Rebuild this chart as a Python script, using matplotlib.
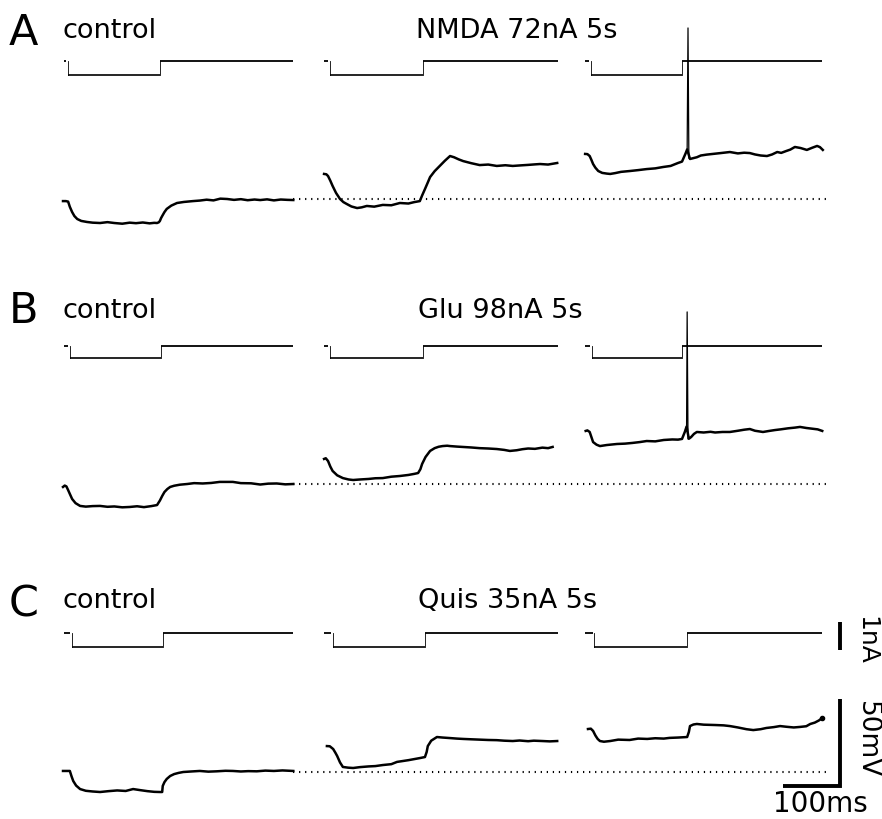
import matplotlib
matplotlib.use("Agg")
import matplotlib.pyplot as plt

# ---------------- data (time in ms within each sweep, voltage in mV re. rest, current in nA) -------------
panel_letters = ["A", "B", "C"]
control_label = "control"
drug_labels = ["NMDA 72nA 5s", "Glu 98nA 5s", "Quis 35nA 5s"]

# Panel A
A1_t = [0, 5, 9, 12, 16, 20, 25, 32, 42, 52, 65, 78, 90, 104, 117, 128, 140, 152, 160, 165, 168, 170, 172,
        174, 178, 182, 190, 200, 212, 228, 240, 252, 264, 276, 288, 300, 312, 324, 336, 346, 358, 370, 382, 394, 404]
A1_v = [-1.2, -1.2, -1.5, -4.5, -7.5, -9.8, -11.5, -12.6, -13.2, -13.6, -13.8, -13.3, -13.8, -14.2, -13.6,
        -13.9, -13.5, -14.0, -13.7, -13.8, -13.4, -12.6, -11.0, -9.8, -7.5, -5.7, -3.8, -2.3, -1.7, -1.2, -0.9,
        -0.4, -0.8, 0.2, 0.0, -0.5, -0.1, -0.7, -0.3, -0.6, -0.2, -0.8, -0.3, -0.5, -0.6]
A2_t = [2, 6, 9, 13, 17, 23, 30, 36, 42, 50, 60, 68, 77, 90, 105, 120, 135, 150, 160, 170, 174, 179, 184, 188,
        196, 205, 214, 223, 230, 238, 246, 260, 275, 290, 305, 320, 333, 346, 360, 372, 381, 395, 411]
A2_v = [14.4, 14.2, 13.2, 10.5, 7.5, 3.5, 0.0, -1.8, -2.9, -4.3, -5.2, -4.8, -4.0, -4.4, -3.4, -3.6, -2.3, -2.6,
        -1.8, -1.2, 2.0, 5.7, 9.5, 12.6, 16.0, 19.0, 22.0, 24.7, 24.0, 22.8, 21.8, 20.6, 19.5, 19.8, 19.0, 19.4,
        19.0, 19.3, 19.6, 19.9, 20.1, 19.8, 20.7]
A3_t = [2, 6, 10, 13, 16, 20, 25, 32, 40, 46, 55, 65, 81, 95, 110, 125, 139, 152, 165, 172, 178, 181,
        186, 192, 198, 205, 215, 226, 240, 256, 270, 281, 291, 300, 310, 321, 330, 339, 346, 355, 362, 370,
        380, 391, 400, 409, 414, 419]
A3_v = [25.9, 25.8, 24.7, 22.5, 20.1, 18.0, 16.1, 15.0, 14.6, 14.4, 14.9, 15.6, 16.1, 16.6, 17.2, 17.6, 18.4,
        19.0, 20.7, 21.5, 26.0, 28.5, 23.0, 23.5, 24.0, 25.0, 25.5, 25.9, 26.4, 27.0, 26.2, 26.6, 26.4, 25.6,
        25.0, 24.7, 25.6, 27.0, 26.5, 27.6, 28.4, 29.9, 29.3, 28.2, 29.4, 30.5, 29.8, 28.2]
A_spike_t = [181, 182.5, 184]
A_spike_v = [28.5, 98.3, 23.5]

# Panel B
B1_t = [0, 3, 6, 9, 12, 16, 22, 30, 40, 52, 65, 78, 90, 104, 117, 130, 142, 155, 165, 170, 174, 178, 183, 188,
        195, 205, 218, 230, 245, 260, 275, 298, 312, 330, 346, 360, 375, 390, 404]
B1_v = [-1.7, -0.9, -1.4, -3.5, -5.7, -8.6, -11.0, -12.6, -13.0, -12.7, -12.6, -13.1, -12.9, -13.4, -13.2,
        -12.8, -13.3, -12.7, -12.1, -9.5, -6.9, -4.6, -2.9, -1.7, -1.0, -0.4, 0.0, 0.5, 0.3, 0.6, 1.2, 1.2, 0.5,
        0.4, -0.3, 0.2, 0.3, -0.2, 0.0]
B2_t = [2, 5, 9, 13, 17, 25, 35, 45, 53, 65, 80, 92, 105, 120, 135, 150, 160, 167, 171, 174, 180, 188, 196, 203,
        210, 218, 223, 235, 250, 260, 275, 290, 305, 318, 328, 340, 350, 360, 372, 385, 395, 403]
B2_v = [14.4, 14.8, 13.2, 10.0, 7.5, 5.0, 3.4, 2.6, 2.3, 2.6, 2.9, 3.3, 3.4, 4.2, 4.6, 5.2, 5.8, 6.3, 8.5, 11.5,
        15.5, 19.0, 20.6, 21.4, 21.8, 22.0, 21.8, 21.5, 21.2, 21.0, 20.6, 20.4, 20.1, 19.6, 19.0, 19.4, 20.0,
        20.4, 20.2, 20.9, 20.6, 21.3]
B3_t = [3, 6, 10, 13, 16, 22, 28, 40, 58, 72, 85, 98, 110, 125, 140, 155, 165, 172, 177, 180,
        184, 188, 193, 198, 210, 222, 230, 243, 256, 270, 281, 291, 300, 314, 325, 335, 345, 358, 370, 379,
        390, 400, 410, 418]
B3_v = [30.5, 30.8, 29.9, 27.0, 24.1, 22.6, 21.8, 22.4, 23.0, 23.2, 23.6, 24.1, 24.7, 24.5, 25.3, 25.6, 25.5,
        25.9, 30.0, 33.0, 26.0, 27.0, 28.8, 29.9, 29.6, 30.0, 29.6, 29.9, 29.9, 30.6, 31.2, 31.6, 30.6, 29.9,
        30.5, 31.0, 31.4, 32.0, 32.4, 32.8, 32.2, 31.8, 31.4, 30.5]
B_spike_t = [180, 181, 182.5]
B_spike_v = [33.0, 98.9, 26.0]

# Panel C
C1_t = [0, 6, 12, 15, 18, 23, 30, 40, 52, 65, 80, 95, 110, 123, 135, 148, 160, 170, 174, 175, 178, 182, 188,
        195, 203, 211, 225, 240, 255, 270, 285, 298, 312, 325, 340, 355, 370, 385, 404]
C1_v = [0.6, 0.6, 0.6, -2.5, -5.2, -7.8, -9.8, -10.8, -11.2, -11.5, -11.0, -10.6, -10.9, -9.8, -10.4, -11.0,
        -11.4, -11.5, -11.5, -8.0, -5.8, -4.0, -2.3, -1.2, -0.5, 0.0, 0.3, 0.6, 0.2, 0.4, 0.7, 0.6, 0.3, 0.5,
        0.4, 0.8, 0.6, 0.9, 0.6]
C2_t = [7, 12, 18, 22, 25, 30, 35, 44, 53, 65, 80, 92, 105, 120, 130, 140, 150, 160, 170, 179, 182, 184, 190,
        200, 210, 223, 235, 246, 260, 275, 290, 305, 318, 333, 345, 360, 370, 385, 398, 411]
C2_v = [14.9, 14.8, 13.2, 11.0, 9.2, 5.5, 2.9, 2.5, 2.3, 2.8, 3.2, 3.4, 4.0, 4.5, 5.8, 6.3, 6.8, 7.4, 8.0, 8.6,
        11.5, 14.9, 18.0, 20.1, 19.8, 19.5, 19.2, 19.0, 18.8, 18.6, 18.4, 18.3, 18.0, 17.8, 18.1, 17.7, 18.0,
        17.8, 17.6, 17.8]
C3_t = [7, 12, 16, 20, 24, 28, 35, 46, 60, 80, 95, 111, 125, 140, 150, 165, 181, 184, 186, 192, 198, 210, 230,
        245, 256, 270, 285, 297, 310, 320, 333, 344, 355, 368, 379, 390, 397, 405, 412, 418]
C3_v = [24.7, 24.9, 23.6, 21.0, 19.0, 17.8, 17.4, 17.8, 18.6, 18.4, 19.2, 19.0, 19.4, 19.2, 19.6, 19.8, 20.1,
        23.0, 26.4, 27.3, 27.6, 27.2, 27.0, 26.8, 26.4, 25.6, 24.6, 24.1, 24.6, 25.3, 25.8, 26.4, 26.0, 25.6,
        25.9, 26.3, 27.6, 28.4, 29.6, 31.0]

volt_t = [[A1_t, A2_t, A3_t], [B1_t, B2_t, B3_t], [C1_t, C2_t, C3_t]]
volt_v = [[A1_v, A2_v, A3_v], [B1_v, B2_v, B3_v], [C1_v, C2_v, C3_v]]
spikes = {0: (A_spike_t, A_spike_v), 1: (B_spike_t, B_spike_v)}

# Current command (hyperpolarising pulse)
pulse_on_ms = [[8, 12, 12], [12, 12, 14], [16, 18, 18]]
pulse_off_ms = [[170, 175, 172], [172, 175, 172], [175, 179, 181]]
sweep_end_ms = [404, 412, 418]
pulse_amp_nA = [-0.50, -0.43, -0.50]

# Resting level reference (dotted) extends to this time (global ms)
rest_end_ms = 1340

# Scale bars
scale_ms, scale_mV, scale_nA = 100, 50, 1
scale_labels = ["1nA", "50mV", "100ms"]

# ---------------- layout ----------------
W, H, DPI = 882, 820, 100
px_per_ms, px_per_mV, px_per_nA = 0.57, 1.74, 28.0
x0_px = 63
sweep_offset_ms = [0, 456, 914]
volt_base_px = [200, 485, 773]
curr_base_px = [62, 347, 634]

plt.rcParams["font.family"] = ["DejaVu Sans"]
fig = plt.figure(figsize=(W / DPI, H / DPI), dpi=DPI)
fig.patch.set_facecolor("white")


def make_axes(base_px, px_per_unit, label):
    ax = fig.add_axes([0, 0, 1, 1], label=label)
    ax.set_xlim(-x0_px / px_per_ms, (W - x0_px) / px_per_ms)
    ax.set_ylim((base_px - H) / px_per_unit, base_px / px_per_unit)
    ax.set_axis_off()
    ax.patch.set_alpha(0)
    return ax


ink = "black"
for p in range(3):
    axv = make_axes(volt_base_px[p], px_per_mV, f"v{p}")
    axi = make_axes(curr_base_px[p], px_per_nA, f"i{p}")

    for s in range(3):
        off = sweep_offset_ms[s]
        # current trace
        on, offt, end = pulse_on_ms[p][s], pulse_off_ms[p][s], sweep_end_ms[s]
        amp = pulse_amp_nA[p]
        axi.plot([off + 2, off + on - 3], [0, 0], color=ink, lw=1.3, solid_capstyle="butt")
        axi.plot([off + on, off + on], [0, amp], color=ink, lw=0.6)
        axi.plot([off + on, off + offt], [amp, amp], color=ink, lw=1.2, solid_capstyle="butt")
        axi.plot([off + offt, off + offt], [amp, 0], color=ink, lw=0.6)
        axi.plot([off + offt, off + end], [0, 0], color=ink, lw=1.3, solid_capstyle="butt")
        # voltage trace
        tt = [off + t for t in volt_t[p][s]]
        axv.plot(tt, volt_v[p][s], color=ink, lw=1.8, solid_joinstyle="round")

    if p in spikes:
        st, sv = spikes[p]
        axv.plot([sweep_offset_ms[2] + t for t in st], sv, color=ink, lw=0.9)

    # resting-level dotted line
    axv.plot([sweep_end_ms[0], rest_end_ms], [0, 0], color=ink, lw=1.5,
             linestyle=(0, (0.6, 2.3)))

    if p == 2:
        # end dot on last trace
        axv.plot([sweep_offset_ms[2] + C3_t[-1]], [C3_v[-1]], "o", color=ink, ms=3)
        # scale bars
        xbar = rest_end_ms + 23
        axv.plot([xbar - scale_ms, xbar, xbar], [-8, -8, -8 + scale_mV], color=ink,
                 lw=2.8, solid_joinstyle="miter", solid_capstyle="butt")
        axi.plot([xbar, xbar], [-0.6, -0.6 + scale_nA], color=ink, lw=2.8,
                 solid_capstyle="butt")

# ---------------- text ----------------
def fx(x):
    return x / W


def fy(y):
    return 1 - y / H


letter_base = [45, 323, 617]
label_base = [38, 318, 608]
drug_left = [416, 418, 418]
for p in range(3):
    fig.text(fx(9), fy(letter_base[p]), panel_letters[p], fontsize=31,
             ha="left", va="baseline", color=ink)
    fig.text(fx(63), fy(label_base[p]), control_label, fontsize=19.5,
             ha="left", va="baseline", color=ink)
    fig.text(fx(drug_left[p]), fy(label_base[p]), drug_labels[p], fontsize=19.5,
             ha="left", va="baseline", color=ink)

fig.text(fx(866), fy(640), scale_labels[0], fontsize=18, rotation=270,
         ha="center", va="center", color=ink)
fig.text(fx(867), fy(740), scale_labels[1], fontsize=19, rotation=270,
         ha="center", va="center", color=ink)
fig.text(fx(820), fy(804), scale_labels[2], fontsize=20,
         ha="center", va="center", color=ink)

fig.savefig("out.png", dpi=DPI, facecolor="white")
